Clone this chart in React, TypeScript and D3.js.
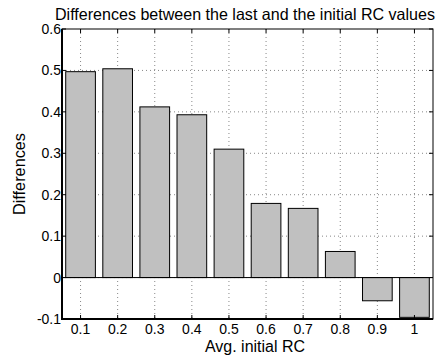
import React, { useEffect, useRef } from "react";
import * as d3 from "d3";

const categories = ["0.1", "0.2", "0.3", "0.4", "0.5", "0.6", "0.7", "0.8", "0.9", "1"];
const differences = [0.497, 0.504, 0.412, 0.393, 0.31, 0.179, 0.167, 0.063, -0.056, -0.096];
const yTicks = [-0.1, 0, 0.1, 0.2, 0.3, 0.4, 0.5, 0.6];

const App = () => {
  const svgRef = useRef<SVGSVGElement>(null);

  useEffect(() => {
    const svg = d3.select(svgRef.current);
    svg.selectAll("*").remove();

    const left = 62;
    const right = 433;
    const top = 29;
    const bottom = 319;
    const font = "'Liberation Sans', Arial, sans-serif";

    const x = d3
      .scaleBand()
      .domain(categories)
      .range([left, right])
      .paddingInner(0.2)
      .paddingOuter(0.1);
    const y = d3.scaleLinear().domain([-0.1, 0.6]).range([bottom, top]);
    const cx = (c: string) => (x(c) as number) + x.bandwidth() / 2;

    // grid
    const grid = svg.append("g").attr("stroke", "#888").attr("stroke-dasharray", "1,3");
    categories.forEach((c) => {
      grid.append("line").attr("x1", cx(c)).attr("x2", cx(c)).attr("y1", top).attr("y2", bottom);
    });
    yTicks.slice(1, -1).forEach((t) => {
      grid.append("line").attr("x1", left).attr("x2", right).attr("y1", y(t)).attr("y2", y(t));
    });

    // bars
    svg
      .selectAll(".bar")
      .data(differences)
      .enter()
      .append("rect")
      .attr("class", "bar")
      .attr("x", (d, i) => x(categories[i]) as number)
      .attr("y", (d) => Math.min(y(d), y(0)))
      .attr("width", x.bandwidth())
      .attr("height", (d) => Math.abs(y(d) - y(0)))
      .attr("fill", "#c0c0c0")
      .attr("stroke", "#000")
      .attr("stroke-width", 1);

    // baseline
    svg.append("line").attr("x1", left).attr("x2", right).attr("y1", y(0)).attr("y2", y(0)).attr("stroke", "#000");

    // axes box
    svg
      .append("rect")
      .attr("x", left)
      .attr("y", top)
      .attr("width", right - left)
      .attr("height", bottom - top)
      .attr("fill", "none")
      .attr("stroke", "#000")
      .attr("stroke-width", 1);
    svg.append("line").attr("x1", left).attr("x2", left).attr("y1", top).attr("y2", bottom + 1).attr("stroke", "#000").attr("stroke-width", 2);
    svg.append("line").attr("x1", left).attr("x2", right).attr("y1", bottom).attr("y2", bottom).attr("stroke", "#000").attr("stroke-width", 2);

    // tick marks
    yTicks.forEach((t) => {
      svg.append("line").attr("x1", left).attr("x2", left + 4).attr("y1", y(t)).attr("y2", y(t)).attr("stroke", "#000");
      svg.append("line").attr("x1", right - 4).attr("x2", right).attr("y1", y(t)).attr("y2", y(t)).attr("stroke", "#000");
    });
    categories.forEach((c) => {
      svg.append("line").attr("x1", cx(c)).attr("x2", cx(c)).attr("y1", bottom).attr("y2", bottom - 4).attr("stroke", "#000");
      svg.append("line").attr("x1", cx(c)).attr("x2", cx(c)).attr("y1", top).attr("y2", top + 4).attr("stroke", "#000");
    });

    // labels
    svg
      .selectAll(".ylab")
      .data(yTicks)
      .enter()
      .append("text")
      .attr("x", left - 1)
      .attr("y", (d) => y(d) + 5)
      .attr("text-anchor", "end")
      .attr("font-family", font)
      .attr("font-size", 14)
      .text((d) => (d === 0 ? "0" : String(d)));

    svg
      .selectAll(".xlab")
      .data(categories)
      .enter()
      .append("text")
      .attr("x", (d) => cx(d))
      .attr("y", 334)
      .attr("text-anchor", "middle")
      .attr("font-family", font)
      .attr("font-size", 14)
      .text((d) => d);

    svg
      .append("text")
      .attr("x", 205)
      .attr("y", 352)
      .attr("font-family", font)
      .attr("font-size", 16)
      .attr("textLength", 100)
      .attr("lengthAdjust", "spacingAndGlyphs")
      .text("Avg. initial RC");

    svg
      .append("text")
      .attr("transform", `translate(25,215) rotate(-90)`)
      .attr("font-family", font)
      .attr("font-size", 16)
      .attr("textLength", 82)
      .attr("lengthAdjust", "spacingAndGlyphs")
      .text("Differences");

    svg
      .append("text")
      .attr("x", 55)
      .attr("y", 20)
      .attr("font-family", font)
      .attr("font-size", 16.5)
      .attr("textLength", 380)
      .attr("lengthAdjust", "spacingAndGlyphs")
      .text("Differences between the last and the initial RC values");
  }, []);

  return (
    <svg
      ref={svgRef}
      width={438}
      height={358}
      style={{ position: "absolute", left: 0, top: 0, background: "#fff" }}
    ></svg>
  );
};

export default App;
